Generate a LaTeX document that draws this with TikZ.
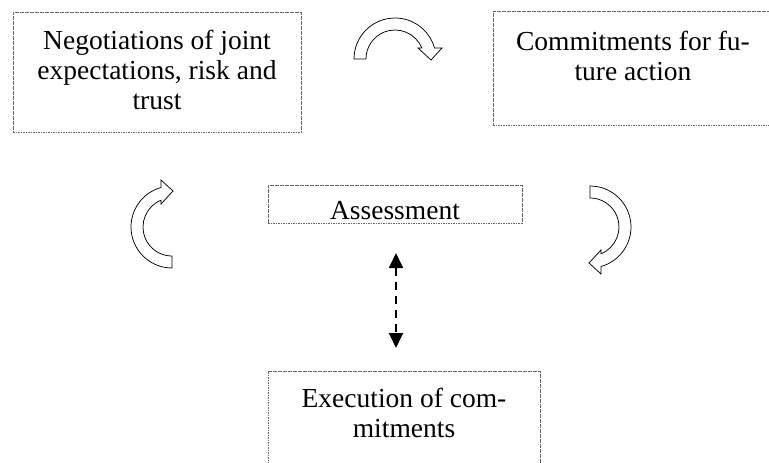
\documentclass[tikz,border=0pt]{standalone}
\usepackage{fontspec}
\setmainfont{Liberation Serif}
\usetikzlibrary{arrows.meta}
\begin{document}
\begin{tikzpicture}[x=1pt,y=-1pt,
  box/.style={draw=black!60, line width=0.7pt, dash pattern=on 1.6pt off 0.9pt,
    rectangle, inner sep=0pt},
  label/.style={align=center, inner sep=0pt, font=\fontsize{27.5}{30}\selectfont},
  turn/.style={draw=black, line width=0.75pt, fill=white, line join=miter},
  link/.style={line width=1.8pt, dash pattern=on 8pt off 6pt,
    {Triangle[length=15pt,width=14pt]}-{Triangle[length=15pt,width=14pt]}}]
\useasboundingbox (0,0) rectangle (769,463);
\clip (0,0) rectangle (769,463);

% frames
\node[box, minimum width=288pt, minimum height=120pt] (nego) at (157,72) {};
\node[box, minimum width=282pt, minimum height=114pt] (commit) at (634,68) {};
\node[box, minimum width=254pt, minimum height=38pt] (assess) at (395,204) {};
\node[box, minimum width=272pt, minimum height=110pt] (exec) at (404,426) {};

% captions
\node[label] (negotxt) at (157,70) {Negotiations of joint\\expectations, risk and\\trust};
\node[label] (committxt) at (633,56) {Commitments for fu-\\ture action};
\node[label] (assesstxt) at (395,210.5) {Assessment};
\node[label] (exectxt) at (404,412.5) {Execution of com-\\mitments};

% curved cycle arrows
\draw[turn] (354,59) arc[start angle=180, end angle=344.4, radius=41]
  -- (442,48) -- (431,60) -- (418,48) -- (421.8,48)
  arc[start angle=337.7, end angle=180, radius=29] -- cycle;
\draw[turn] (590,186) arc[start angle=270, end angle=434.4, radius=41]
  -- (601,274) -- (589,263) -- (601,250) -- (601,253.8)
  arc[start angle=427.7, end angle=270, radius=29] -- cycle;
\draw[turn] (172,268) arc[start angle=90, end angle=254.4, radius=41]
  -- (161,180) -- (173,191) -- (161,204) -- (161,200.2)
  arc[start angle=247.7, end angle=90, radius=29] -- cycle;

% two-way link between assessment and execution
\coordinate (ltop) at (396,253);
\coordinate (lbot) at (396,348);
\draw[link] (ltop) -- (lbot);
\end{tikzpicture}
\end{document}
